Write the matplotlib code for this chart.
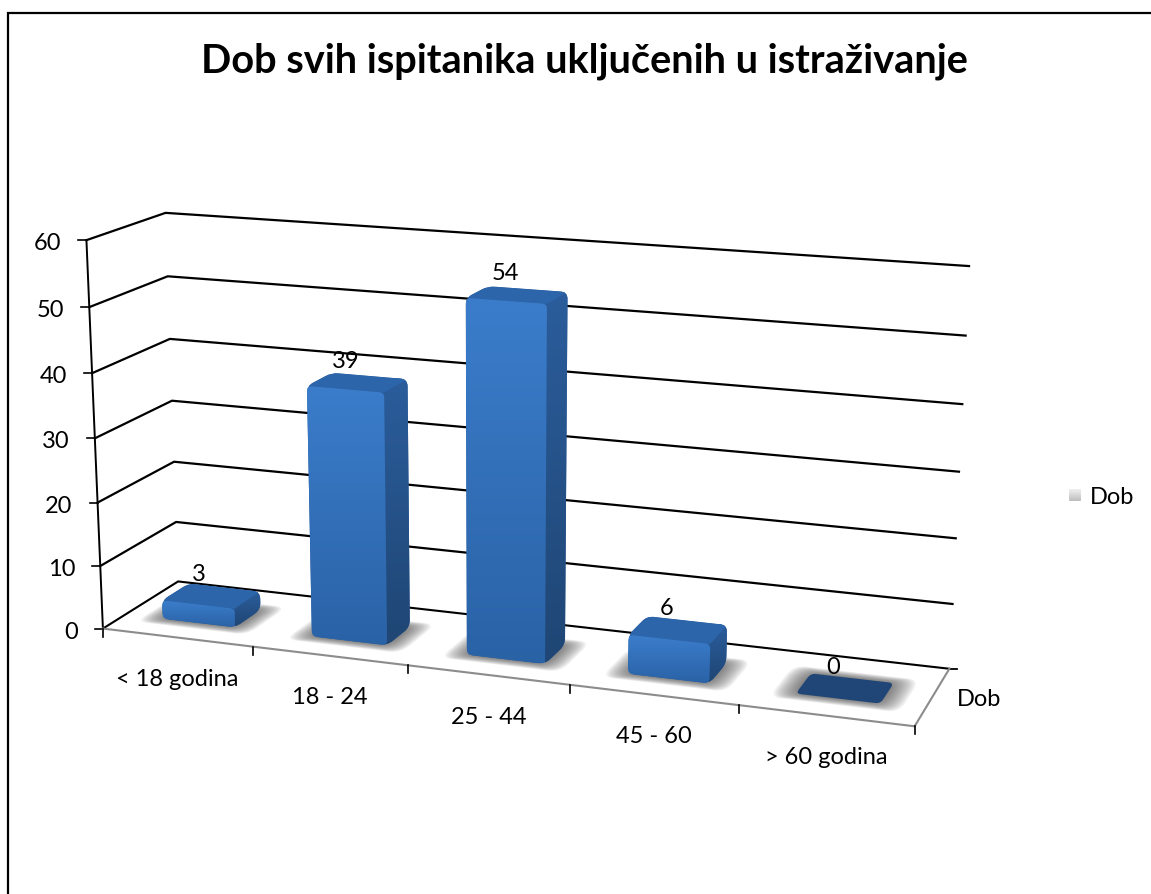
import numpy as np
import matplotlib
matplotlib.use('Agg')
import matplotlib.pyplot as plt
from matplotlib.path import Path
from matplotlib.patches import PathPatch

categories = ['< 18 godina', '18 - 24', '25 - 44', '45 - 60', '> 60 godina']
values = [3, 39, 54, 6, 0]
y_ticks = [0, 10, 20, 30, 40, 50, 60]
title = 'Dob svih ispitanika uključenih u istraživanje'
series_name = 'Dob'

plt.rcParams['font.family'] = ['Lato', 'DejaVu Sans']

fig = plt.figure(figsize=(11.51, 8.94), dpi=100)
ax = fig.add_axes([0, 0, 1, 1])
ax.set_xlim(0, 1151)
ax.set_ylim(894, 0)
ax.axis('off')

# corners of the 3d box on screen: (u along categories, v height, w depth) -> pixel
box = [
    ((0, 0, 0), (103, 628)), ((0, 1, 0), (86, 240)),
    ((0, 0, 1), (178, 582)), ((0, 1, 1), (166, 213)),
    ((1, 0, 0), (914, 726)), ((1, 1, 0), (935, 301)),
    ((1, 0, 1), (950, 669)), ((1, 1, 1), (968, 265)),
]
rows = []
for (u, v, w), (px, py) in box:
    rows.append([u, v, w, 1, 0, 0, 0, 0, -px * u, -px * v, -px * w, -px])
    rows.append([0, 0, 0, 0, u, v, w, 1, -py * u, -py * v, -py * w, -py])
# 3x4 camera matrix
cam = np.linalg.svd(np.array(rows, float))[2][-1].reshape(3, 4)


def proj(cat, val, depth):
    # cat in category units (0-5), val in data units, depth 0-1
    p = cam @ np.array([cat / len(categories), val / y_ticks[-1], depth, 1.0])
    return p[0] / p[2], p[1] / p[2]


def rounded(pts, r):
    pts = np.array(pts, float)
    n = len(pts)
    verts, codes = [], []
    for i in range(n):
        p, a, b = pts[i], pts[i - 1], pts[(i + 1) % n]
        rr = min(r, np.linalg.norm(a - p) * 0.45, np.linalg.norm(b - p) * 0.45)
        s = p + (a - p) / np.linalg.norm(a - p) * rr
        e = p + (b - p) / np.linalg.norm(b - p) * rr
        verts += [s, p, e]
        codes += [Path.MOVETO if i == 0 else Path.LINETO, Path.CURVE3, Path.CURVE3]
    verts.append(verts[0])
    codes.append(Path.CLOSEPOLY)
    return Path(verts, codes)


def grad_fill(path, c_top, c_bottom, z, clip=None):
    ext = path.get_extents()
    c = np.linspace(matplotlib.colors.to_rgb(c_top), matplotlib.colors.to_rgb(c_bottom), 256)[:, None, :]
    im = ax.imshow(c, extent=[ext.x0, ext.x1, ext.y1, ext.y0], aspect='auto', zorder=z, interpolation='bilinear')
    patch = PathPatch(path if clip is None else clip, fc='none', ec='none', transform=ax.transData)
    ax.add_patch(patch)
    im.set_clip_path(patch)


# frame
ax.plot([8, 8, 1151], [894, 13, 13], color='black', lw=1.6, solid_joinstyle='miter', zorder=1)

# gridlines and left wall
for t in y_ticks[1:]:
    x, y = zip(proj(0, t, 0), proj(0, t, 1), proj(5, t, 1))
    ax.plot(x, y, color='black', lw=1.6, zorder=2)
x, y = zip(proj(0, 0, 0), proj(0, 60, 0))
ax.plot(x, y, color='black', lw=1.4, zorder=2)
x, y = zip(proj(0, 0, 0), proj(0, 0, 1), proj(5, 0, 1))
ax.plot(x, y, color='black', lw=1.5, zorder=2)
ax.plot(*zip(proj(5, 0, 1), (proj(5, 0, 1)[0] + 8, proj(5, 0, 1)[1])), color='black', lw=1.3, zorder=2)

# y ticks and labels
for t in y_ticks:
    px, py = proj(0, t, 0)
    ax.plot([px - 8, px], [py, py], color='black', lw=1.2, zorder=2)
    ax.text(px - 25, py + 3.5, str(t), ha='right', va='center', fontsize=17, color='black')

# floor edges
ax.plot(*zip(proj(0, 0, 0), proj(5, 0, 0), proj(5, 0, 1)), color='#8c8c8c', lw=1.5, zorder=2)

# x ticks and labels
for i in range(len(categories) + 1):
    px, py = proj(i, 0, 0)
    ax.plot([px, px], [py, py + 8], color='black', lw=1.2, zorder=3)
for i, name in enumerate(categories):
    px, py = proj(i + 0.5, 0, 0)
    ax.text(px, py + 42, name, ha='center', va='center', fontsize=17, color='black')

ax.text(957, 699, series_name, ha='left', va='center', fontsize=17)

# bars
u_pad = 0.255
w0, w1 = 0.29, 0.65
for i, val in enumerate(values):
    ul, ur = i + u_pad, i + 1 - u_pad
    fl0, fr0 = proj(ul, 0, w0), proj(ur, 0, w0)
    bl0, br0 = proj(ul, 0, w1), proj(ur, 0, w1)
    fl1, fr1 = proj(ul, val, w0), proj(ur, val, w0)
    bl1, br1 = proj(ul, val, w1), proj(ur, val, w1)

    # soft floor shadow
    for d in np.linspace(0.13, 0.0, 14):
        dw = d * 0.8
        floor = [proj(ul - d, 0, w0 - dw), proj(ur + d, 0, w0 - dw),
                 proj(ur + d, 0, w1 + dw), proj(ul - d, 0, w1 + dw)]
        ax.add_patch(PathPatch(rounded(floor, 12), fc='#444444', ec='none', alpha=0.07, zorder=4 + i * 0.1))

    if val == 0:
        ax.add_patch(PathPatch(rounded([fl0, fr0, br0, bl0], 5), fc='#1f4676', ec='none', zorder=5 + i))
    else:
        outline = rounded([fl0, fr0, br0, br1, bl1, fl1], 7)
        ax.add_patch(PathPatch(outline, fc='#2a5d9c', ec='none', zorder=4.9 + i))
        side = Path([fr1, br1, br0, fr0, fr1])
        grad_fill(side, '#2b5d9c', '#1f4674', 5 + i, clip=outline)
        top_face = PathPatch(Path([fl1, fr1, br1, bl1, fl1]), fc='#2c65aa', ec='none', zorder=5.1 + i)
        ax.add_patch(top_face)
        top_face.set_clip_path(outline, ax.transData)
        front = rounded([fl1, fr1, fr0, fl0], 5)
        grad_fill(front, '#3b7dcb', '#2a62a6', 5.2 + i)

    tx, ty = proj(i + 0.5, val, (w0 + w1) / 2)
    ax.text(tx - 12, ty - 21, str(val), ha='center', va='center', fontsize=17, color='black', zorder=20)

# title
ax.text(584, 61, title, ha='center', va='center', fontsize=28.6, fontweight='bold', color='black')

# legend
swatch = [(1069, 489), (1081, 489), (1081, 501), (1069, 501)]
grad_fill(rounded(swatch, 1), '#f0f0f0', '#bdbdbd', 3)
ax.set_xlim(0, 1151)
ax.set_ylim(894, 0)
ax.text(1090, 498, series_name, ha='left', va='center', fontsize=17)

fig.savefig('out.png', dpi=100)
